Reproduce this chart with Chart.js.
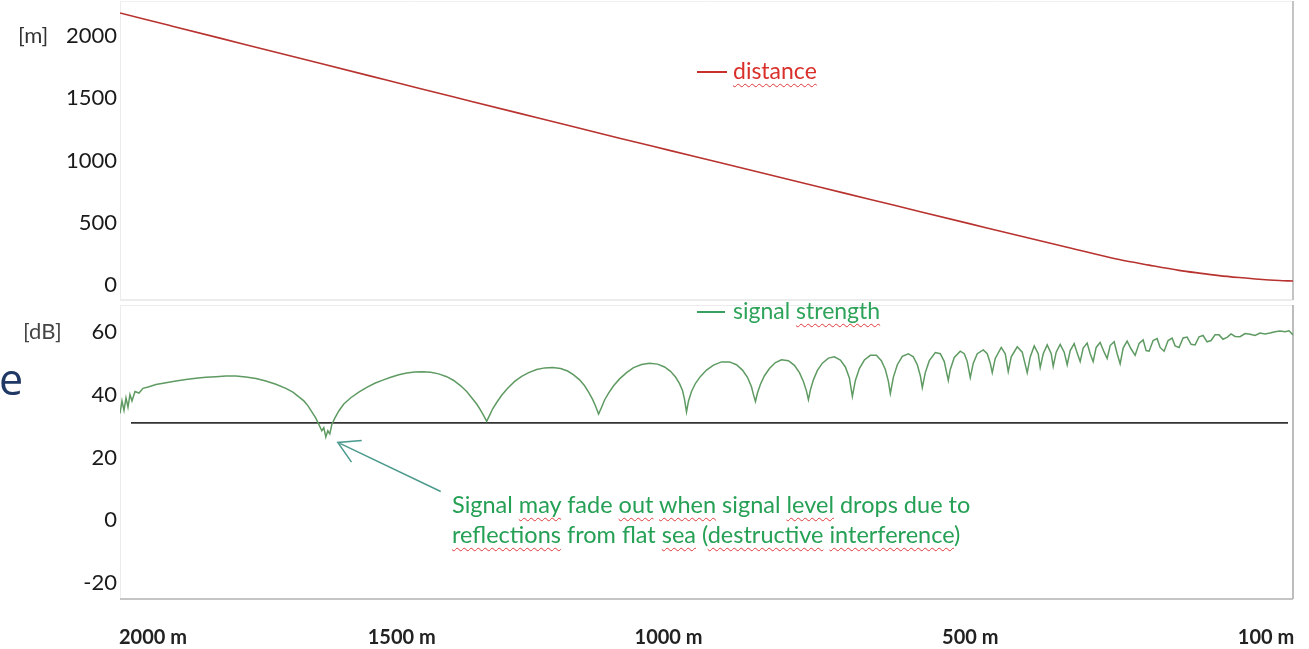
<!DOCTYPE html>
<html>
<head>
<meta charset="utf-8">
<script src="https://cdn.jsdelivr.net/npm/chart.js@4.4.1/dist/chart.umd.min.js"></script>
<style>
  html, body { margin: 0; padding: 0; background: #fff; }
  #wrap { position: relative; width: 1309px; height: 649px; overflow: hidden; }
  canvas { position: absolute; left: 0; }
  .lbl { position: absolute; white-space: nowrap; font-family: Lato, "Open Sans", sans-serif; line-height: 1; }
  .wavy { text-decoration: underline wavy #e03a3a 1px; text-underline-offset: 4px; }
  .swatch { position: absolute; height: 2px; }
</style>
</head>
<body>
<div id="wrap">
  <canvas id="dist-chart" width="1309" height="303" style="top:0"></canvas>
  <canvas id="signal-chart" width="1309" height="346" style="top:303px"></canvas>

  <div class="lbl" style="left:-1px; top:357px; font-family:'Open Sans'; font-size:43px; color:#1f3864;">e</div>
  <div class="lbl" style="left:18px; top:24px; font-size:22px; color:#333;">[m]</div>
  <div class="lbl" style="left:23px; top:320px; font-size:22px; color:#444;">[dB]</div>

  <div class="swatch" style="left:697px; top:71px; width:30px; background:#c8302c;"></div>
  <div class="lbl" style="left:733px; top:59px; font-size:23px; color:#d9302c;"><span class="wavy">distance</span></div>

  <div class="swatch" style="left:697px; top:311px; width:28px; background:#3aa060;"></div>
  <div class="lbl" style="left:733px; top:299px; font-size:23px; color:#2ea35a;">signal <span class="wavy">strength</span></div>

  <div class="lbl" style="left:452px; top:493px; font-size:23.5px; color:#25a055;">Signal <span class="wavy">may</span> fade <span class="wavy">out</span> <span class="wavy">when</span> signal <span class="wavy">level</span> drops due to</div>
  <div class="lbl" style="left:452px; top:523px; font-size:23.5px; color:#25a055;"><span class="wavy">reflections</span> from flat <span class="wavy">sea</span> (<span class="wavy">destructive</span> <span class="wavy">interference</span>)</div>
</div>

<script>
// time axis in seconds, distance in m, signal in dB
var distT = [0, 5, 10, 15, 20, 25, 30, 35, 40, 45, 50, 55, 60, 65, 70, 75, 80, 85, 90, 95,
  100, 103, 106, 108, 110, 112, 114, 116, 117.4];
var distM = [2184, 2083, 1982, 1881, 1780, 1679, 1578, 1478, 1378, 1278, 1179, 1081, 983, 885, 787, 689, 591, 493, 395, 300,
  205, 160, 118, 96, 76, 60, 46, 36, 32];

var sigT = [0, 0.2, 0.4, 0.6, 0.8, 1.0, 1.2, 1.5, 1.9, 2.3, 2.9, 3.6, 4.6, 5.6, 6.6, 7.6, 8.6, 9.6, 10.6, 11.6,
  12.6, 13.6, 14.6, 15.6, 16.6, 17.3, 17.9, 18.4, 18.8, 19.2, 19.6, 19.9, 20.2, 20.4, 20.6, 20.8, 21.0, 21.2, 21.5, 21.9,
  22.4, 23.1, 23.9, 24.7, 25.5, 26.3, 27.1, 27.9, 28.7, 29.5, 30.3, 31.1, 31.9, 32.7, 33.4, 34.1, 34.7, 35.2, 35.7, 36.1,
  36.4, 36.7, 37.0, 37.3, 37.7, 38.2, 38.8, 39.5, 40.2, 40.9, 41.7, 42.5, 43.3, 44.1, 44.8, 45.4, 46.0, 46.5, 46.9, 47.3,
  47.6, 47.9, 48.2, 48.5, 48.9, 49.4, 50.0, 50.7, 51.4, 52.2, 53.0, 53.8, 54.5, 55.1, 55.6, 56.0, 56.3, 56.5, 56.7, 56.9,
  57.2, 57.6, 58.1, 58.7, 59.4, 60.2, 61.0, 61.7, 62.3, 62.8, 63.2, 63.4, 63.6, 63.8, 64.1, 64.5, 65.0, 65.6, 66.2, 66.9,
  67.5, 68.0, 68.4, 68.7, 68.9, 69.1, 69.4, 69.8, 70.3, 70.9, 71.5, 72.1, 72.6, 73.0, 73.3, 73.6, 74.0, 74.5, 75.1, 75.7,
  76.2, 76.6, 76.9, 77.1, 77.4, 77.8, 78.3, 78.9, 79.4, 79.8, 80.1, 80.3, 80.6, 81.0, 81.6, 82.1, 82.5, 82.7, 82.9, 83.1,
  83.5, 84.1, 84.5, 84.8, 85.1, 85.4, 85.8, 86.4, 86.8, 87.1, 87.3, 87.6, 88.2, 88.6, 88.9, 89.2, 89.8, 90.3, 90.8, 91.1,
  91.5, 91.9, 92.1, 92.4, 92.8, 93.2, 93.4, 93.7, 94.1, 94.5, 94.8, 95.1, 95.5, 95.8, 96.1, 96.4, 96.8, 97.1, 97.4, 97.7,
  98.1, 98.5, 98.8, 99.1, 99.5, 99.8, 100.1, 100.4, 100.8, 101.2, 101.6, 102.0, 102.4, 102.7, 103.0, 103.4, 103.8, 104.1, 104.5, 104.9,
  105.3, 105.6, 106.0, 106.4, 106.8, 107.2, 107.6, 108.0, 108.4, 108.8, 109.2, 109.6, 110.0, 110.4, 110.8, 111.2, 111.6, 112.1, 112.6, 113.1,
  113.6, 114.1, 114.6, 115.1, 115.6, 116.1, 116.6, 117.0, 117.4];
var sigDb = [34, 38, 35, 39, 36, 40, 38, 41, 40.5, 42, 42.5, 43.2, 43.8, 44.3, 44.8, 45.2, 45.5, 45.7, 45.9, 45.9,
  45.6, 45.1, 44.3, 43.3, 42, 40.8, 39.3, 38, 36.5, 34.5, 32.5, 30.5, 28.5, 29.5, 26.5, 28.5, 27.5, 30.5, 32.5, 34.8,
  37, 39, 40.8, 42.3, 43.6, 44.6, 45.5, 46.3, 46.9, 47.2, 47.3, 47.1, 46.6, 45.7, 44.5, 42.8, 41, 39, 37, 35,
  33.3, 31.5, 33.5, 35.5, 37.5, 39.8, 42, 44.2, 45.8, 47, 48, 48.5, 48.6, 48.3, 47.5, 46.3, 44.7, 42.8, 40.8, 38.5,
  36.3, 33.8, 36, 38.3, 40.5, 42.8, 45, 47, 48.6, 49.6, 50, 49.7, 48.8, 47.4, 45.6, 43.5, 41.3, 38.5, 34.5, 38,
  41, 43.6, 45.8, 47.8, 49.4, 50.4, 50.4, 49.5, 47.8, 45.5, 42.5, 40, 37.8, 40.5, 43.3, 46, 48.3, 50.2, 51.1, 50.8,
  49.3, 47, 44.2, 41.2, 38.4, 41.5, 44.7, 47.7, 50, 51.6, 52, 51, 48.8, 45.3, 39.4, 44.5, 48.3, 51, 52.5, 52.5,
  50.8, 48, 44.3, 40.3, 45.5, 49.5, 52.2, 53, 52, 49.5, 46, 42.2, 47, 50.8, 53.4, 53, 50.5, 47.5, 44.5, 48,
  51.8, 53.8, 53, 50.5, 45.4, 50, 53, 54.2, 53, 50, 47, 51.5, 55, 53, 47.3, 52, 55.2, 53.5, 47, 52,
  55.5, 53, 48.6, 53, 55.8, 53, 49, 53.5, 56, 53.5, 49.5, 54, 56.2, 53.2, 50.5, 54.8, 56.4, 53, 50.5, 55,
  56.6, 53.5, 51.5, 55.6, 56.8, 53, 49.8, 54.8, 57, 54.5, 52.5, 56.3, 57.4, 54, 53.8, 57.2, 57.8, 55, 53.8, 57.2,
  58, 55.5, 55, 58, 58.3, 56, 55.8, 58.4, 58.8, 56.8, 57.2, 59, 59, 57.6, 58.2, 59.3, 58.5, 58.4, 59.4, 59.2,
  58.8, 59.6, 59.3, 59.6, 60, 60.2, 60, 60.3, 59];

var limitT = [1.1, 116.9];
var limitDb = [31, 31];

var xTickT = [3.3, 28.2, 54.9, 85.1, 114.7];
var xTickLabels = ["2000 m", "1500 m", "1000 m", "500 m", "100 m"];
var distTicks = [0, 500, 1000, 1500, 2000];
var dbTicks = [-20, 0, 20, 40, 60];

var arrowTail = [32.1, 9.2];
var arrowTip = [21.8, 24.8];

function toPoints(xs, ys) {
  return xs.map(function(x, i) { return { x: x, y: ys[i] }; });
}

function noEdgePadding(s) {
  s.paddingTop = 0; s.paddingBottom = 0; s.paddingLeft = 0; s.paddingRight = 0;
}

var framePlugin = {
  id: 'frame',
  beforeDatasetsDraw: function(chart, args, opts) {
    var a = chart.chartArea, c = chart.ctx;
    c.save();
    c.lineWidth = 1;
    c.strokeStyle = opts.left;
    c.beginPath(); c.moveTo(a.left + 0.5, a.top); c.lineTo(a.left + 0.5, a.bottom); c.stroke();
    c.strokeStyle = opts.top;
    c.beginPath(); c.moveTo(a.left, a.top + 0.5); c.lineTo(a.right, a.top + 0.5); c.stroke();
    c.lineWidth = 2;
    c.strokeStyle = opts.bottom;
    c.beginPath(); c.moveTo(a.left, a.bottom); c.lineTo(a.right, a.bottom); c.stroke();
    c.strokeStyle = opts.right;
    c.beginPath(); c.moveTo(a.right, a.top); c.lineTo(a.right, a.bottom); c.stroke();
    c.restore();
  }
};

var arrowPlugin = {
  id: 'arrow',
  afterDatasetsDraw: function(chart) {
    var xs = chart.scales.x, ys = chart.scales.y, c = chart.ctx;
    var x0 = xs.getPixelForValue(arrowTail[0]), y0 = ys.getPixelForValue(arrowTail[1]);
    var x1 = xs.getPixelForValue(arrowTip[0]), y1 = ys.getPixelForValue(arrowTip[1]);
    var ang = Math.atan2(y0 - y1, x0 - x1);
    var len = 24, spread = 0.52;
    c.save();
    c.strokeStyle = '#4c9a8e';
    c.lineWidth = 1.5;
    c.beginPath();
    c.moveTo(x0, y0); c.lineTo(x1, y1);
    c.moveTo(x1 + len * Math.cos(ang - spread), y1 + len * Math.sin(ang - spread));
    c.lineTo(x1, y1);
    c.lineTo(x1 + len * Math.cos(ang + spread), y1 + len * Math.sin(ang + spread));
    c.stroke();
    c.restore();
  }
};

var tickFont = { family: 'Lato', size: 22 };

function yAxis(min, max, vals) {
  return {
    min: min,
    max: max,
    afterBuildTicks: function(s) { s.ticks = vals.map(function(v) { return { value: v }; }); },
    afterFit: function(s) { s.width = 120; noEdgePadding(s); },
    grid: { display: false, drawTicks: false },
    border: { display: false },
    ticks: {
      color: '#1a1a1a',
      font: tickFont,
      padding: 3,
      callback: function(v) { return String(v); }
    }
  };
}

window.onload = function() {

  new Chart(document.getElementById('dist-chart'), {
    type: 'line',
    data: {
      datasets: [{
        label: 'distance',
        data: toPoints(distT, distM),
        borderColor: '#b8332f',
        borderWidth: 1.6,
        pointRadius: 0,
        cubicInterpolationMode: 'monotone'
      }]
    },
    options: {
      responsive: false,
      animation: false,
      layout: { padding: { top: 1, right: 16, bottom: 3, left: 0 } },
      plugins: {
        legend: { display: false },
        tooltip: { enabled: false },
        frame: { left: '#ececec', top: '#f0f0f0', right: '#c4c4c4', bottom: '#ececec' }
      },
      scales: {
        x: { type: 'linear', min: 0, max: 117.4, display: false },
        y: yAxis(-120, 2280, distTicks)
      }
    },
    plugins: [framePlugin]
  });

  new Chart(document.getElementById('signal-chart'), {
    type: 'line',
    data: {
      datasets: [{
        label: 'signal strength',
        data: toPoints(sigT, sigDb),
        borderColor: '#5e9a62',
        borderWidth: 1.5,
        pointRadius: 0,
        tension: 0
      }, {
        label: 'limit',
        data: toPoints(limitT, limitDb),
        borderColor: '#333',
        borderWidth: 1.8,
        pointRadius: 0
      }]
    },
    options: {
      responsive: false,
      animation: false,
      layout: { padding: { top: 2, right: 16, bottom: 0, left: 0 } },
      plugins: {
        legend: { display: false },
        tooltip: { enabled: false },
        frame: { left: '#ececec', top: '#ececec', right: '#bdbdbd', bottom: '#c4c4c4' }
      },
      scales: {
        x: {
          type: 'linear',
          min: 0,
          max: 117.4,
          afterBuildTicks: function(s) { s.ticks = xTickT.map(function(v) { return { value: v }; }); },
          afterFit: function(s) { s.height = 50; noEdgePadding(s); },
          grid: { display: false, drawTicks: false },
          border: { display: false },
          ticks: {
            color: '#222',
            font: { family: 'Lato', size: 20, weight: 'bold' },
            padding: 27,
            maxRotation: 0,
            autoSkip: false,
            callback: function(v, i) { return xTickLabels[i]; }
          }
        },
        y: yAxis(-25, 68.5, dbTicks)
      }
    },
    plugins: [framePlugin, arrowPlugin]
  });

}
</script>
</body>
</html>
